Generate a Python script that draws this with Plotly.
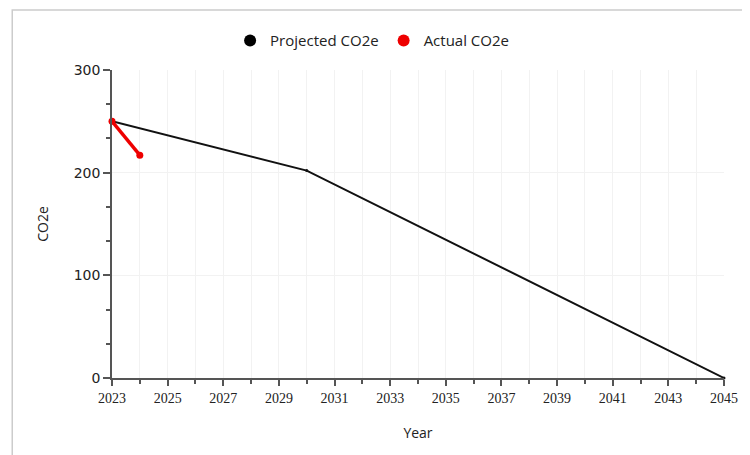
import plotly.graph_objects as go

proj_years = [2023, 2030, 2045]
proj_vals = [250, 202, 0]
actual_years = [2023, 2024]
actual_vals = [250, 217]
x_tick_vals = list(range(2023, 2046, 2))
y_tick_vals = [0, 100, 200, 300]

fig = go.Figure()
fig.add_trace(go.Scatter(x=proj_years, y=proj_vals, mode="lines+markers",
                         line=dict(color="#111111", width=2),
                         marker=dict(color="#111111", size=3),
                         showlegend=False, cliponaxis=False))
fig.add_trace(go.Scatter(x=actual_years, y=actual_vals, mode="lines+markers",
                         line=dict(color="#ee0000", width=3.5),
                         marker=dict(color="#ee0000", size=7),
                         showlegend=False, cliponaxis=False))
fig.add_trace(go.Scatter(x=[None], y=[None], mode="markers", name="Projected CO2e",
                         marker=dict(color="#000000", size=12)))
fig.add_trace(go.Scatter(x=[None], y=[None], mode="markers", name="Actual CO2e",
                         marker=dict(color="#ee0000", size=12)))

fig.update_layout(
    width=742, height=447,
    margin=dict(l=104, r=26, t=62, b=77),
    paper_bgcolor="white", plot_bgcolor="white",
    font=dict(family="Open Sans", color="#222222", size=13),
    legend=dict(orientation="h", x=0.425, xanchor="center", y=1.095, yanchor="middle",
                font=dict(family="Open Sans", size=15, color="#222222"),
                itemwidth=30, tracegroupgap=0),
    shapes=[dict(type="rect", xref="paper", yref="paper",
                 x0=-0.163, x1=1.036, y0=-0.3, y1=1.195,
                 line=dict(color="#cccccc", width=1.5), layer="below")],
)
fig.update_xaxes(range=[2023, 2045], tickvals=x_tick_vals, ticktext=[str(v) for v in x_tick_vals],
                 showline=True, linecolor="#555555", linewidth=1.5,
                 ticks="outside", ticklen=6, tickcolor="#555555", tickwidth=1.5,
                 tickfont=dict(family="Liberation Serif", size=14, color="#222222"),
                 showgrid=True, gridcolor="#f2f2f2", gridwidth=1,
                 minor=dict(dtick=1, tick0=2023, ticks="outside", ticklen=4, tickcolor="#555555",
                            showgrid=True, gridcolor="#f2f2f2"),
                 zeroline=False,
                 title=dict(text="Year", font=dict(family="Open Sans", size=14, color="#222222"), standoff=24))
fig.update_yaxes(range=[0, 300], tickvals=y_tick_vals,
                 showline=True, linecolor="#555555", linewidth=1.5,
                 ticks="outside", ticklen=7, tickcolor="#555555", tickwidth=1.5,
                 tickfont=dict(family="DejaVu Sans", size=14, color="#222222"),
                 showgrid=True, gridcolor="#f2f2f2", gridwidth=1,
                 minor=dict(dtick=100/3, tick0=0, ticks="outside", ticklen=4, tickcolor="#555555",
                            showgrid=False),
                 zeroline=False,
                 title=dict(text="CO2e", font=dict(family="Open Sans", size=14, color="#222222"), standoff=22))

fig.write_html("out.html")
